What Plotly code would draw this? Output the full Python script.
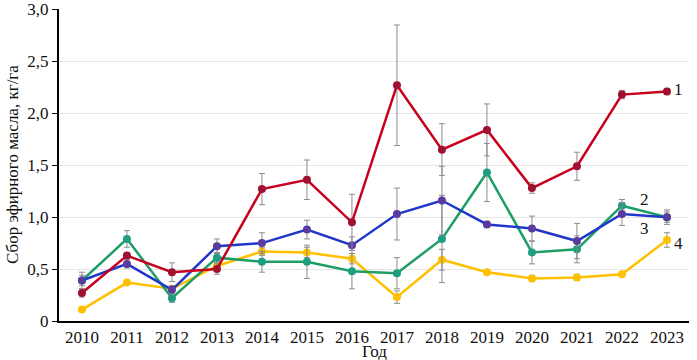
import plotly.graph_objects as go

years = [2010, 2011, 2012, 2013, 2014, 2015, 2016, 2017, 2018, 2019, 2020, 2021, 2022, 2023]

s1 = [0.27, 0.63, 0.47, 0.50, 1.27, 1.36, 0.95, 2.27, 1.65, 1.84, 1.28, 1.49, 2.18, 2.21]
e1 = [0.04, 0.03, 0.09, 0.05, 0.15, 0.19, 0.27, 0.58, 0.25, 0.25, 0.05, 0.135, 0.04, 0.03]

s2 = [0.39, 0.79, 0.22, 0.61, 0.57, 0.57, 0.48, 0.46, 0.79, 1.43, 0.66, 0.69, 1.11, 1.00]
e2 = [0.05, 0.08, 0.04, 0.05, 0.10, 0.16, 0.17, 0.15, 0.42, 0.28, 0.11, 0.13, 0.06, 0.05]

s3 = [0.39, 0.55, 0.30, 0.72, 0.75, 0.88, 0.73, 1.03, 1.16, 0.93, 0.89, 0.77, 1.03, 1.00]
e3 = [0.08, 0.04, 0.04, 0.07, 0.10, 0.09, 0.08, 0.25, 0.33, 0.03, 0.12, 0.17, 0.11, 0.07]

s4 = [0.11, 0.37, 0.31, 0.53, 0.67, 0.66, 0.60, 0.23, 0.59, 0.47, 0.41, 0.42, 0.45, 0.78]
e4 = [0.02, 0.02, 0.03, 0.04, 0.04, 0.05, 0.05, 0.06, 0.10, 0.02, 0.03, 0.03, 0.02, 0.07]

names = ["1", "2", "3", "4"]
line_colors = ["#C8001E", "#1E9E64", "#1F38C8", "#FFC000"]
marker_colors = ["#A01030", "#1E9E80", "#5A3A9E", "#FFC000"]

y_ticks = [0, 0.5, 1.0, 1.5, 2.0, 2.5, 3.0]
y_ticktext = ["0", "0,5", "1,0", "1,5", "2,0", "2,5", "3,0"]

label_pos = [(2023.25, 2.23, "1"), (2022.5, 1.17, "2"), (2022.5, 0.886, "3"), (2023.25, 0.75, "4")]

FONT = "Liberation Serif"

fig = go.Figure()
series = [s1, s2, s3, s4]
errs = [e1, e2, e3, e4]
for idx in [3, 1, 2, 0]:
    fig.add_trace(go.Scatter(
        x=years, y=series[idx], name=names[idx], mode="lines+markers",
        line=dict(color=line_colors[idx], width=2.5),
        marker=dict(color=marker_colors[idx], size=8),
        error_y=dict(type="data", array=errs[idx], visible=True,
                     color="#8C8C8C", thickness=1, width=3),
        showlegend=False,
    ))

for x, y, t in label_pos:
    fig.add_annotation(x=x, y=y, text=t, showarrow=False, xanchor="center",
                       yanchor="middle", font=dict(family=FONT, size=17, color="#111111"))

# axis titles
fig.add_annotation(xref="paper", yref="paper", x=0.5, y=0, yshift=-19,
                   text="Год", showarrow=False, xanchor="center", yanchor="top",
                   font=dict(family=FONT, size=17, color="#111111"))
fig.add_annotation(xref="paper", yref="paper", x=0, xshift=-47, y=0.5,
                   text="Сбор эфирного масла, кг/га", showarrow=False, textangle=-90,
                   xanchor="center", yanchor="middle",
                   font=dict(family=FONT, size=17, color="#111111"))

fig.update_layout(
    width=697, height=360,
    margin=dict(l=59, r=8, t=9, b=39, autoexpand=False),
    paper_bgcolor="white", plot_bgcolor="white",
    font=dict(family=FONT, size=17, color="#111111"),
)
fig.update_xaxes(
    range=[2009.49, 2023.49], tickvals=years, ticktext=[str(y) for y in years],
    showgrid=False, showline=True, linecolor="black", linewidth=2,
    ticks="", zeroline=False, automargin=False,
    tickfont=dict(family=FONT, size=17), ticklabeloverflow="allow",
)
fig.update_yaxes(
    range=[0, 3.004], tickvals=y_ticks, ticktext=y_ticktext,
    showgrid=True, gridcolor="#E6E6E6", gridwidth=1,
    showline=True, linecolor="black", linewidth=2,
    ticks="outside", ticklen=5, tickcolor="black", zeroline=False, automargin=False,
    tickfont=dict(family=FONT, size=17), ticklabeloverflow="allow",
)

fig.write_html("out.html", config={"displayModeBar": False},
               post_script="document.body.style.margin='0';")
